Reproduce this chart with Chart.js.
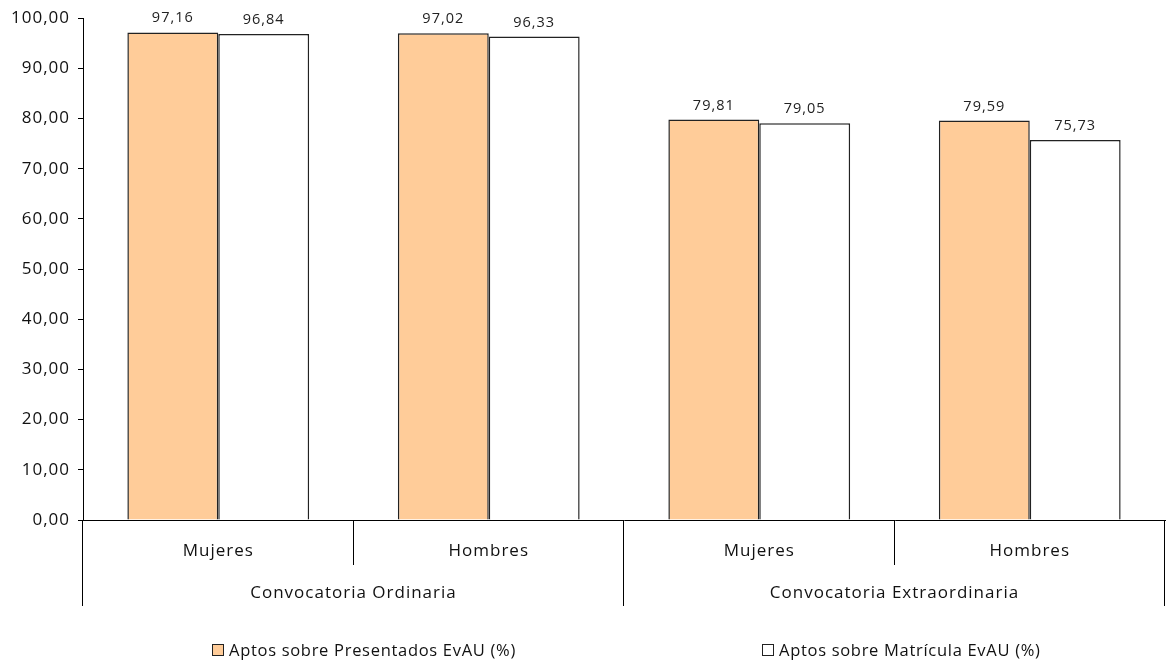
<!DOCTYPE html>
<html>
<head>
<meta charset="utf-8">
<script src="https://cdn.jsdelivr.net/npm/chart.js@4"></script>
<style>
  html,body{margin:0;padding:0;background:#fff;}
  #wrap{position:relative;width:1166px;height:664px;}
  .leg{position:absolute;top:638px;font:16.5px "Open Sans",sans-serif;letter-spacing:0.7px;color:#111;display:flex;align-items:center;white-space:nowrap;}
  .leg i{display:inline-block;width:10px;height:10px;border:1px solid #222;margin-right:5px;}
</style>
</head>
<body>
<div id="wrap">
  <canvas id="c" width="1166" height="664"></canvas>
  <div class="leg" style="left:212px"><i style="background:#FFCC99"></i>Aptos sobre Presentados EvAU (%)</div>
  <div class="leg" style="left:762px"><i style="background:#fff"></i>Aptos sobre Matrícula EvAU (%)</div>
</div>
<script>
// categories and groups
const categories = ["Mujeres", "Hombres", "Mujeres", "Hombres"];
const groups = ["Convocatoria Ordinaria", "Convocatoria Extraordinaria"];
const seriesNames = ["Aptos sobre Presentados EvAU (%)", "Aptos sobre Matrícula EvAU (%)"];
const presentados = [97.16, 97.02, 79.81, 79.59];
const matricula = [96.84, 96.33, 79.05, 75.73];
const yMax = 100;
const yStep = 10;

const fmt = v => v.toFixed(2).replace(".", ",");
const FONT = '"Open Sans", sans-serif';

// value labels + two-level axis lines
const extras = {
  id: "extras",
  beforeDraw(chart){
    chart.ctx.letterSpacing = "1px";
  },
  afterDraw(chart){
    const ctx = chart.ctx;
    const xs = chart.scales.x;
    const bottom = chart.chartArea.bottom;
    ctx.save();
    // values above bars
    ctx.font = "14.5px " + FONT;
    ctx.fillStyle = "#222";
    ctx.textAlign = "center";
    ctx.textBaseline = "alphabetic";
    chart.data.datasets.forEach((ds, di)=>{
      chart.getDatasetMeta(di).data.forEach((el, i)=>{
        ctx.fillText(fmt(ds.data[i]), el.x, el.y - 10);
      });
    });
    // separators
    const step = xs.getPixelForTick(1) - xs.getPixelForTick(0);
    ctx.strokeStyle = "#000";
    ctx.lineWidth = 1;
    for(let i=0;i<=categories.length;i++){
      const x = Math.round(xs.getPixelForTick(0) - step/2 + i*step) - 0.5;
      const long = i % 2 === 0;
      ctx.beginPath();
      ctx.moveTo(x, bottom);
      ctx.lineTo(x, bottom + (long ? 86 : 45));
      ctx.stroke();
    }
    // group labels
    ctx.font = "17px " + FONT;
    ctx.fillStyle = "#111";
    ctx.textBaseline = "middle";
    groups.forEach((g, gi)=>{
      const cx = (xs.getPixelForTick(gi*2) + xs.getPixelForTick(gi*2+1)) / 2;
      ctx.fillText(g, cx, bottom + 73);
    });
    ctx.restore();
  }
};

new Chart(document.getElementById("c"), {
  type: "bar",
  data: {
    labels: categories,
    datasets: [
      {label: seriesNames[0], data: presentados, backgroundColor: "#FFCC99", borderColor: "#222", borderWidth: 1.5},
      {label: seriesNames[1], data: matricula, backgroundColor: "#FFFFFF", borderColor: "#222", borderWidth: 1.5}
    ]
  },
  options: {
    responsive: false,
    animation: false,
    categoryPercentage: 0.672,
    barPercentage: 1,
    layout: {padding: {left: 0, top: 15, right: 1, bottom: 44}},
    plugins: {legend: {display: false}, tooltip: {enabled: false}},
    scales: {
      x: {
        grid: {display: false, drawTicks: false},
        border: {display: true, color: "#000", width: 1},
        ticks: {color: "#111", font: {family: FONT, size: 17}, padding: 21, maxRotation: 0},
        afterFit: s => { s.height = 100; }
      },
      y: {
        min: 0, max: yMax,
        grid: {drawOnChartArea: false, color: "#000", tickLength: 5},
        border: {display: true, color: "#000", width: 1},
        ticks: {stepSize: yStep, color: "#111", font: {family: FONT, size: 17}, padding: 8, callback: v => fmt(v)},
        afterFit: s => { s.width = 83; }
      }
    }
  },
  plugins: [extras]
});
</script>
</body>
</html>
